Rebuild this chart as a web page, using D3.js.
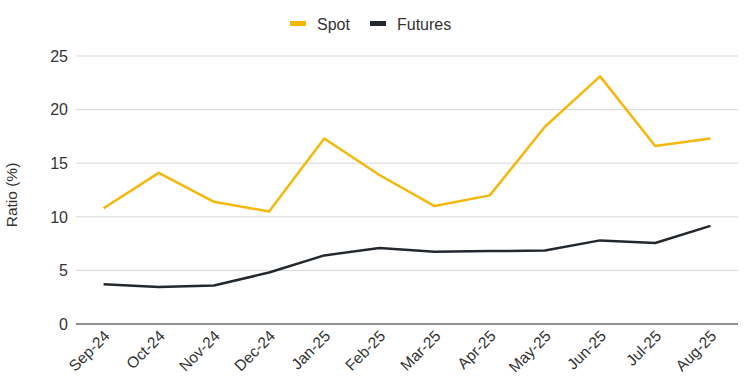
<!DOCTYPE html>
<html><head><meta charset="utf-8">
<script src="https://cdn.jsdelivr.net/npm/d3@7"></script>
<style>body{margin:0;background:#fff;}svg{display:block;font-family:"Liberation Sans",Arial,sans-serif;}</style>
</head><body>
<svg id="c" width="745" height="384"></svg>
<script>
const categories = ["Sep-24","Oct-24","Nov-24","Dec-24","Jan-25","Feb-25","Mar-25","Apr-25","May-25","Jun-25","Jul-25","Aug-25"];
const spot = [10.8,14.1,11.4,10.5,17.3,13.9,11.0,12.0,18.4,23.1,16.6,17.3];
const futures = [3.7,3.45,3.6,4.8,6.4,7.1,6.75,6.8,6.85,7.8,7.55,9.15];
const yTicks = [0,5,10,15,20,25];
const seriesNames = ["Spot","Futures"];
const colors = ["#F5B70A","#23282E"];

(function(){
const svg = d3.select("#c");
const mL = 76, mR = 738, mT = 56, mB = 324;
const x = d3.scaleBand().domain(categories).range([mL,mR]);
const y = d3.scaleLinear().domain([0,25]).range([mB,mT]);

svg.append("g").selectAll("line").data(yTicks.filter(d=>d>0)).join("line")
  .attr("x1",mL).attr("x2",mR).attr("y1",d=>y(d)).attr("y2",d=>y(d))
  .attr("stroke","#d6d6d6").attr("stroke-width",1);
svg.append("line").attr("x1",mL).attr("x2",mR).attr("y1",y(0)).attr("y2",y(0))
  .attr("stroke","#6b6b6b").attr("stroke-width",1.3);

svg.append("g").selectAll("text").data(yTicks).join("text")
  .attr("x",mL-8).attr("y",d=>y(d)).attr("dy","0.36em").attr("text-anchor","end")
  .attr("font-size",16).attr("fill","#333").text(d=>d);

svg.append("g").selectAll("text").data(categories).join("text")
  .attr("transform",d=>`translate(${x(d)+x.bandwidth()/2+7},${mB+13}) rotate(-45)`)
  .attr("text-anchor","end").attr("font-size",15.5).attr("fill","#333").text(d=>d);

svg.append("text").attr("transform","translate(17,195) rotate(-90)")
  .attr("text-anchor","middle").attr("font-size",15.5).attr("fill","#333").text("Ratio (%)");

const line = d3.line().x((d,i)=>x(categories[i])+x.bandwidth()/2).y(d=>y(d));
[spot,futures].forEach((s,i)=>{
  svg.append("path").datum(s).attr("d",line).attr("fill","none")
    .attr("stroke",colors[i]).attr("stroke-width",2.5).attr("stroke-linejoin","round");
});

const lg = svg.append("g");
const lx = [290,370];
seriesNames.forEach((n,i)=>{
  lg.append("rect").attr("x",lx[i]).attr("y",21).attr("width",16).attr("height",5).attr("fill",colors[i]);
  lg.append("text").attr("x",lx[i]+27).attr("y",24).attr("dy","0.36em").attr("font-size",16).attr("fill","#333").text(n);
});
})();
</script>
</body></html>
